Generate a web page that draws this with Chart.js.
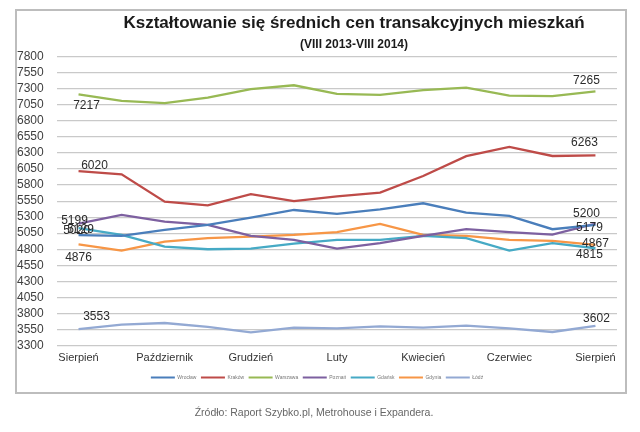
<!DOCTYPE html>
<html>
<head>
<meta charset="utf-8">
<script src="https://cdn.jsdelivr.net/npm/chart.js@4.4.0/dist/chart.umd.min.js"></script>
<style>
  body { margin: 0; background: #fff; width: 640px; height: 432px; position: relative; overflow: hidden; font-family: 'Liberation Sans', Arial, sans-serif; }
  #frame { position: absolute; left: 15px; top: 9px; width: 608px; height: 381px; border: 2px solid #bdbdbd; }
  #title { position: absolute; left: 354px; top: 13px; transform: translateX(-50%); white-space: nowrap; font-weight: bold; font-size: 17px; color: #1a1a1a; }
  #subtitle { position: absolute; left: 354px; top: 37px; transform: translateX(-50%); white-space: nowrap; font-weight: bold; font-size: 12px; color: #1a1a1a; }
  #source { position: absolute; left: 314px; top: 406px; transform: translateX(-50%); white-space: nowrap; font-size: 10.5px; color: #666; }
  canvas { position: absolute; left: 0; top: 0; }
</style>
</head>
<body>
<div id="frame"></div>
<canvas id="chart" width="640" height="432"></canvas>
<div id="title">Kształtowanie się średnich cen transakcyjnych mieszkań</div>
<div id="subtitle">(VIII 2013-VIII 2014)</div>
<div id="source">Źródło: Raport Szybko.pl, Metrohouse i Expandera.</div>
<script>
// VIII 2013 - VIII 2014, monthly
const months = ['Sierpień', 'Wrzesień', 'Październik', 'Listopad', 'Grudzień', 'Styczeń', 'Luty',
    'Marzec', 'Kwiecień', 'Maj', 'Czerwiec', 'Lipiec', 'Sierpień'];

const wroclaw  = [5020, 5008, 5101, 5179, 5292, 5412, 5350, 5423, 5517, 5370, 5319, 5112, 5179];
const krakow   = [6020, 5968, 5541, 5485, 5660, 5552, 5625, 5682, 5942, 6253, 6398, 6255, 6263];
const warszawa = [7217, 7115, 7079, 7166, 7297, 7359, 7225, 7208, 7282, 7322, 7197, 7188, 7265];
const poznan   = [5199, 5334, 5230, 5179, 5007, 4945, 4810, 4894, 5007, 5112, 5065, 5028, 5200];
const gdansk   = [5129, 5023, 4841, 4799, 4810, 4888, 4944, 4945, 5007, 4972, 4779, 4894, 4815];
const gdynia   = [4876, 4779, 4919, 4972, 4997, 5023, 5065, 5194, 5023, 5007, 4944, 4929, 4867];
const lodz     = [3553, 3622, 3648, 3586, 3502, 3575, 3565, 3595, 3575, 3606, 3564, 3508, 3602];

const yMin = 3300, yMax = 7800, yStep = 250;

// where the first/last value labels sit relative to their point (px)
const labelSpots = [
    { ds: 2, i: 0, dx: 8, dy: 11 },   { ds: 2, i: 12, dx: -9, dy: -11 },
    { ds: 1, i: 0, dx: 16, dy: -5 },  { ds: 1, i: 12, dx: -11, dy: -13 },
    { ds: 3, i: 0, dx: -4, dy: -3 },  { ds: 3, i: 12, dx: -9, dy: -10 },
    { ds: 0, i: 0, dx: -2, dy: -4 },  { ds: 0, i: 12, dx: -6, dy: 3 },
    { ds: 4, i: 0, dx: 2, dy: 2 },    { ds: 4, i: 12, dx: -6, dy: 6 },
    { ds: 5, i: 0, dx: 0, dy: 13 },   { ds: 5, i: 12, dx: 0, dy: -1 },
    { ds: 6, i: 0, dx: 18, dy: -12 }, { ds: 6, i: 12, dx: 1, dy: -7 }
];

const valueLabels = {
    id: 'valueLabels',
    afterDatasetsDraw(chart) {
        const ctx = chart.ctx;
        ctx.save();
        ctx.font = '12px "Liberation Sans", Arial, sans-serif';
        ctx.fillStyle = '#2b2b2b';
        ctx.textAlign = 'center';
        ctx.textBaseline = 'middle';
        labelSpots.forEach(s => {
            const pt = chart.getDatasetMeta(s.ds).data[s.i];
            const v = chart.data.datasets[s.ds].data[s.i];
            ctx.fillText(String(v), pt.x + s.dx, pt.y + s.dy);
        });
        ctx.restore();
    }
};

const series = (label, data, color) => ({
    label, data,
    borderColor: color, backgroundColor: color,
    borderWidth: 2.3, pointRadius: 0, tension: 0, fill: false
});

new Chart(document.getElementById('chart'), {
    type: 'line',
    data: {
        labels: months,
        datasets: [
            series('Wrocław', wroclaw, '#4a7ebb'),
            series('Kraków', krakow, '#be4b48'),
            series('Warszawa', warszawa, '#98b954'),
            series('Poznań', poznan, '#7d60a0'),
            series('Gdańsk', gdansk, '#46aac5'),
            series('Gdynia', gdynia, '#f79646'),
            series('Łódź', lodz, '#93a9d3')
        ]
    },
    options: {
        responsive: false,
        animation: false,
        layout: { padding: { top: 57, left: 17, right: 23, bottom: 42 } },
        scales: {
            x: {
                offset: true,
                grid: { display: false, drawTicks: false },
                border: { display: false },
                ticks: {
                    autoSkip: false, maxRotation: 0, padding: 6,
                    color: '#333', font: { size: 11, family: '"Liberation Sans", Arial' },
                    callback: (v, i) => (i % 2 === 0 ? months[i] : '')
                }
            },
            y: {
                min: yMin, max: yMax,
                afterFit: s => { s.width = 40; },
                grid: { color: '#c9c9c9', lineWidth: 1.3, drawTicks: false },
                border: { display: false },
                ticks: {
                    stepSize: yStep, autoSkip: false, crossAlign: 'far',
                    color: '#404040', font: { size: 12, family: '"Liberation Sans", Arial' },
                    callback: v => String(v)
                }
            }
        },
        plugins: {
            tooltip: { enabled: false },
            legend: {
                position: 'bottom',
                labels: {
                    boxWidth: 24, boxHeight: 2, padding: 4.5,
                    color: '#777', font: { size: 5 },
                    generateLabels: chart => Chart.defaults.plugins.legend.labels.generateLabels(chart)
                        .map(l => ({ ...l, fillStyle: l.strokeStyle, lineWidth: 0 }))
                }
            }
        }
    },
    plugins: [valueLabels]
});
</script>
</body>
</html>
